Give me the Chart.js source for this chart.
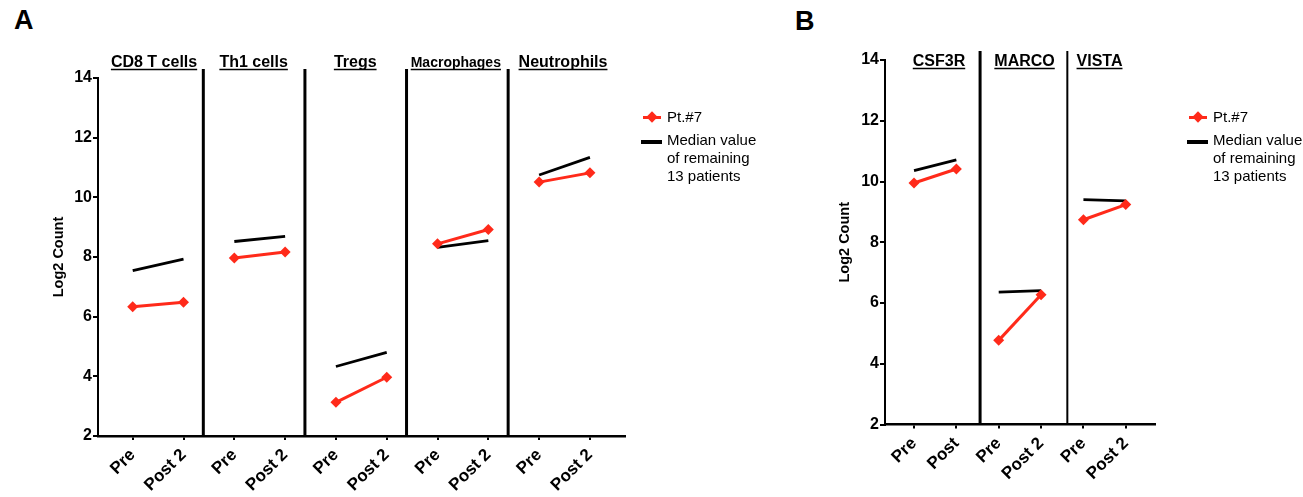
<!DOCTYPE html>
<html>
<head>
<meta charset="utf-8">
<script src="https://cdn.jsdelivr.net/npm/chart.js@4.4.1/dist/chart.umd.min.js"></script>
<style>
  html, body { margin: 0; padding: 0; background: #fff; }
  body { width: 1303px; height: 497px; position: relative; overflow: hidden;
         font-family: "Liberation Sans", Arial, sans-serif; color: #000; }
  canvas { position: absolute; top: 0; }
  #chartA { left: 0; }
  #chartB { left: 790px; }
  .panel { position: absolute; font-weight: bold; font-size: 27px; line-height: 1; }
  .legend { position: absolute; font-size: 15px; line-height: 18px; white-space: nowrap; }
  .legend .row { position: relative; padding-left: 24px; }
  .legend .row2 { margin-top: 5px; }
  .mk { position: absolute; left: 0; width: 18px; height: 3px; }
  .mk.red { background: #ff2a1a; top: 8px; }
  .mk.red::after { content: ""; position: absolute; left: 5px; top: -3px; width: 8px; height: 8px;
                   background: #ff2a1a; transform: rotate(45deg); }
  .mk.blk { background: #000; top: 9px; height: 3.5px; width: 21px; left: -2px; }
</style>
</head>
<body>
<div class="panel" style="left:14px;top:7px">A</div>
<div class="panel" style="left:795px;top:8px">B</div>

<canvas id="chartA" width="660" height="497"></canvas>
<canvas id="chartB" width="400" height="497"></canvas>

<div class="legend" style="left:643px;top:108px">
  <div class="row"><span class="mk red"></span>Pt.#7</div>
  <div class="row row2"><span class="mk blk"></span>Median value<br>of remaining<br>13 patients</div>
</div>
<div class="legend" style="left:1189px;top:108px">
  <div class="row"><span class="mk red"></span>Pt.#7</div>
  <div class="row row2"><span class="mk blk"></span>Median value<br>of remaining<br>13 patients</div>
</div>

<script>
// ---- data --------------------------------------------------------------- //
var yTicks = [2, 4, 6, 8, 10, 12, 14];

var cellsA  = ["CD8 T cells", "Th1 cells", "Tregs", "Macrophages", "Neutrophils"];
var labelsA = ["Pre", "Post 2", "Pre", "Post 2", "Pre", "Post 2", "Pre", "Post 2", "Pre", "Post 2"];
var pt7A    = [6.33, 6.48, 7.97, 8.17, 3.13, 3.97, 8.44, 8.92, 10.51, 10.82];
var medianA = [7.54, 7.93, 8.52, 8.69, 4.33, 4.80, 8.32, 8.55, 10.75, 11.34];

var genesB  = ["CSF3R", "MARCO", "VISTA"];
var labelsB = ["Pre", "Post", "Pre", "Post 2", "Pre", "Post 2"];
var pt7B    = [9.95, 10.41, 4.77, 6.27, 8.74, 9.24];
var medianB = [10.36, 10.71, 6.36, 6.41, 9.40, 9.36];

// ---- styling ------------------------------------------------------------ //
var FONT = '"Liberation Sans", Arial, sans-serif';
var RED = "#ff2a1a";
var BLACK = "#000";

// vertical separators + underlined section titles, placed through the scales
var sectionPlugin = {
  id: "sections",
  afterDatasetsDraw: function (chart, args, o) {
    var ctx = chart.ctx, xs = chart.scales.x, ys = chart.scales.y;
    ctx.save();
    ctx.strokeStyle = BLACK;
    o.seps.forEach(function (s, i) {
      var px = xs.getPixelForValue(s);
      ctx.lineWidth = o.sepWidths[i];
      ctx.beginPath();
      ctx.moveTo(px, ys.getPixelForValue(14.3));
      ctx.lineTo(px, ys.getPixelForValue(2));
      ctx.stroke();
    });
    ctx.fillStyle = BLACK;
    ctx.textAlign = "center";
    ctx.textBaseline = "alphabetic";
    o.titles.forEach(function (t, i) {
      ctx.font = "bold " + o.titleSizes[i] + "px " + FONT;
      var cx = xs.getPixelForValue(o.titlePos[i]);
      var w = ctx.measureText(t).width;
      ctx.fillText(t, cx, o.titleY);
      ctx.lineWidth = 1.5;
      ctx.beginPath();
      ctx.moveTo(cx - w / 2, o.titleY + 2.5);
      ctx.lineTo(cx + w / 2, o.titleY + 2.5);
      ctx.stroke();
    });
    ctx.restore();
  }
};

function pts(arr) {
  return arr.map(function (v, i) { return { x: i, y: v }; });
}

// pairs only: hide the segment that would join one section's Post to the next Pre
function pairSegment(color) {
  return { borderColor: function (c) { return c.p0DataIndex % 2 ? "rgba(0,0,0,0)" : color; } };
}

function makePanel(id, p) {
  new Chart(document.getElementById(id), {
    type: "line",
    data: {
      datasets: [{
        label: "Pt.#7",
        data: pts(p.pt7),
        borderColor: RED,
        backgroundColor: RED,
        borderWidth: 3,
        pointStyle: "rectRot",
        pointRadius: 5.5,
        pointBorderWidth: 0,
        segment: pairSegment(RED)
      }, {
        label: "Median value of remaining 13 patients",
        data: pts(p.median),
        borderColor: BLACK,
        borderWidth: 2.8,
        pointRadius: 0,
        segment: pairSegment(BLACK)
      }]
    },
    plugins: [sectionPlugin],
    options: {
      responsive: false,
      animation: false,
      layout: { padding: { top: p.top, right: p.right, left: 0, bottom: 0 } },
      plugins: {
        legend: { display: false },
        tooltip: { enabled: false },
        sections: {
          seps: p.seps, sepWidths: p.sepWidths, titles: p.titles,
          titlePos: p.titlePos, titleSizes: p.titleSizes, titleY: p.titleY
        }
      },
      scales: {
        x: {
          type: "linear",
          min: p.xMin,
          max: p.xMax,
          afterBuildTicks: function (s) {
            s.ticks = p.labels.map(function (_, i) { return { value: i }; });
          },
          afterFit: function (s) { s.height = p.xAxisH; },
          ticks: {
            callback: function (v) { return p.labels[v]; },
            autoSkip: false,
            minRotation: 45,
            maxRotation: 45,
            padding: 5,
            color: BLACK,
            font: { family: FONT, size: 17, weight: "bold" }
          },
          grid: { drawOnChartArea: false, drawTicks: true, tickLength: 4, color: BLACK, lineWidth: 2 },
          border: { color: BLACK, width: 2.5 }
        },
        y: {
          min: 2,
          max: 14,
          afterBuildTicks: function (s) {
            s.ticks = yTicks.map(function (v) { return { value: v }; });
          },
          afterFit: function (s) { s.width = p.yAxisW; },
          ticks: {
            padding: 1,
            color: BLACK,
            font: { family: FONT, size: 16, weight: "bold" }
          },
          grid: { drawOnChartArea: false, drawTicks: true, tickLength: 5, color: BLACK, lineWidth: 2 },
          border: { color: BLACK, width: 2 },
          title: {
            display: true,
            text: "Log2 Count",
            color: BLACK,
            font: { family: FONT, size: 14.5, weight: "bold" },
            padding: { top: p.yTitlePad, bottom: 0 }
          }
        }
      }
    }
  });
}

makePanel("chartA", {
  labels: labelsA, pt7: pt7A, median: medianA, titles: cellsA,
  xMin: -0.683, xMax: 9.69,
  seps: [1.39, 3.39, 5.39, 7.39], sepWidths: [3, 3, 3, 3],
  titlePos: [0.42, 2.38, 4.38, 6.36, 8.47], titleSizes: [16, 16, 16, 14, 16], titleY: 67,
  top: 78, right: 35, xAxisH: 61, yAxisW: 98, yTitlePad: 50.3
});

makePanel("chartB", {
  labels: labelsB, pt7: pt7B, median: medianB, titles: genesB,
  xMin: -0.685, xMax: 5.69,
  seps: [1.56, 3.62], sepWidths: [3, 2],
  titlePos: [0.59, 2.61, 4.38], titleSizes: [16, 16, 16], titleY: 66,
  top: 60, right: 35, xAxisH: 72.5, yAxisW: 95, yTitlePad: 46.3
});
</script>
</body>
</html>
